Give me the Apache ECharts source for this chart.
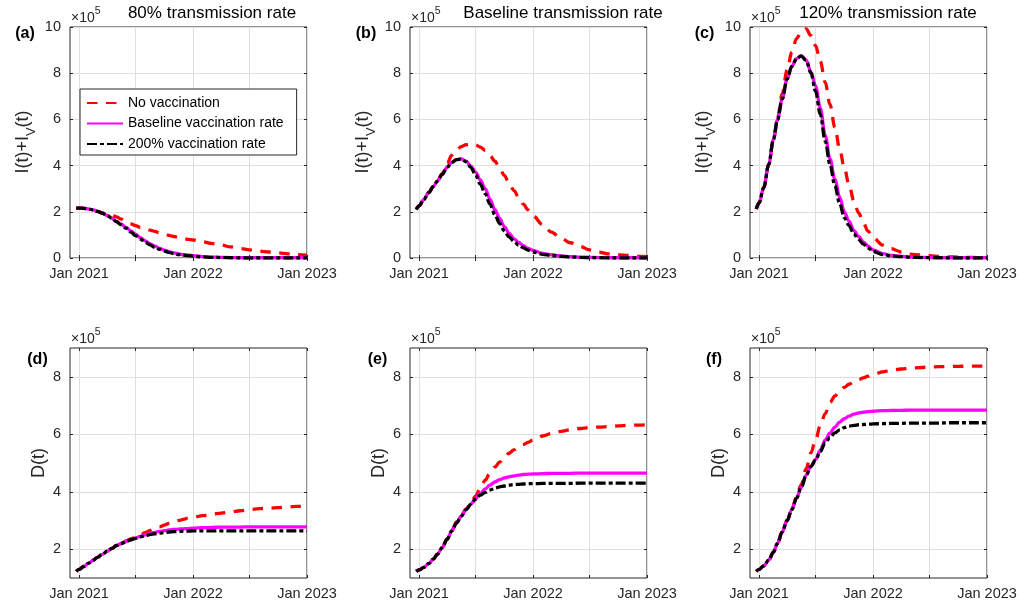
<!DOCTYPE html>
<html><head><meta charset="utf-8">
<script src="https://cdn.jsdelivr.net/npm/echarts@6/dist/echarts.min.js"></script>
<style>html,body{margin:0;padding:0;background:#fff}#c{width:1023px;height:609px}</style>
</head><body><div id="c"></div>
<script>
// ---- data (values in units of 1e5) ----
const dates = ['2020-12-23','2021-01-01','2021-01-16','2021-02-01','2021-02-16','2021-03-01','2021-03-16','2021-04-01','2021-04-16','2021-05-01','2021-05-16','2021-06-01','2021-06-16','2021-07-01','2021-07-16','2021-08-01','2021-08-16','2021-09-01','2021-09-16','2021-10-01','2021-10-16','2021-11-01','2021-11-16','2021-12-01','2021-12-16','2022-01-01','2022-02-01','2022-03-01','2022-04-01','2022-05-01','2022-06-01','2022-07-01','2022-08-01','2022-09-01','2022-10-01','2022-11-01','2022-12-01','2023-01-01'];

// (a) infections, 80% transmission
const noVacA  = [2.16,2.16,2.15,2.12,2.08,2.02,1.95,1.88,1.85,1.78,1.68,1.57,1.48,1.40,1.33,1.27,1.21,1.15,1.09,1.03,0.98,0.93,0.89,0.85,0.81,0.78,0.70,0.63,0.56,0.48,0.41,0.35,0.30,0.26,0.22,0.18,0.15,0.12];
const baseVacA= [2.16,2.16,2.15,2.12,2.08,2.02,1.94,1.84,1.72,1.58,1.46,1.32,1.17,1.03,0.88,0.74,0.62,0.51,0.42,0.34,0.28,0.22,0.18,0.14,0.12,0.10,0.06,0.04,0.03,0.02,0.01,0.01,0.01,0.01,0.01,0.01,0.01,0.01];
const dblVacA = [2.16,2.16,2.15,2.12,2.08,2.02,1.94,1.84,1.72,1.57,1.43,1.28,1.12,0.97,0.82,0.68,0.57,0.46,0.37,0.30,0.24,0.19,0.15,0.12,0.10,0.08,0.05,0.03,0.02,0.01,0,0,0,0,0,0,0,0];
// (b) infections, baseline transmission
const noVacB  = [2.10,2.26,2.53,2.83,3.10,3.34,3.65,4.10,4.45,4.68,4.82,4.91,4.94,4.90,4.80,4.66,4.44,4.19,3.88,3.58,3.25,2.92,2.63,2.33,2.08,1.83,1.44,1.12,0.85,0.66,0.50,0.35,0.25,0.18,0.14,0.11,0.08,0.06];
const baseVacB= [2.10,2.26,2.53,2.83,3.10,3.34,3.62,3.93,4.14,4.26,4.29,4.19,3.98,3.72,3.38,3.00,2.55,2.09,1.71,1.36,1.08,0.84,0.67,0.53,0.42,0.33,0.20,0.14,0.09,0.06,0.04,0.03,0.02,0.01,0.01,0.01,0.01,0.01];
const dblVacB = [2.10,2.26,2.53,2.83,3.10,3.34,3.62,3.93,4.14,4.26,4.28,4.16,3.92,3.60,3.20,2.78,2.33,1.87,1.50,1.18,0.92,0.72,0.56,0.44,0.34,0.26,0.16,0.11,0.07,0.04,0.03,0.01,0.01,0,0,0,0,0];
// (c) infections, 120% transmission
const noVacC  = [2.12,2.38,3.05,4.05,5.13,6.05,7.10,8.15,8.90,9.50,9.80,9.92,9.63,9.19,8.52,7.60,6.65,5.64,4.73,3.90,3.18,2.46,1.95,1.52,1.16,0.88,0.56,0.40,0.26,0.17,0.13,0.10,0.07,0.05,0.04,0.03,0.02,0.02];
const baseVacC= [2.12,2.38,3.05,4.05,5.13,5.98,6.88,7.75,8.30,8.63,8.75,8.57,8.06,7.45,6.50,5.30,4.30,3.40,2.65,2.00,1.60,1.18,0.93,0.70,0.52,0.35,0.19,0.11,0.07,0.04,0.03,0.02,0.01,0.01,0.01,0.01,0.01,0.01];
const dblVacC = [2.12,2.38,3.05,4.05,5.13,5.98,6.88,7.75,8.30,8.63,8.75,8.55,8.02,7.22,6.22,5.06,4.05,3.12,2.37,1.75,1.40,1.03,0.80,0.60,0.43,0.29,0.15,0.09,0.06,0.03,0.02,0.01,0.01,0,0,0,0,0];
// (d) deaths, 80% transmission
const noVacD  = [1.23,1.30,1.40,1.52,1.62,1.72,1.82,1.93,2.03,2.13,2.21,2.29,2.36,2.42,2.50,2.58,2.65,2.72,2.78,2.84,2.90,2.95,3.00,3.04,3.08,3.11,3.17,3.22,3.26,3.30,3.34,3.38,3.41,3.43,3.45,3.47,3.49,3.51];
const baseVacD= [1.23,1.30,1.40,1.52,1.62,1.72,1.82,1.93,2.03,2.13,2.20,2.27,2.33,2.39,2.45,2.50,2.55,2.59,2.62,2.65,2.67,2.69,2.70,2.71,2.72,2.73,2.75,2.76,2.77,2.77,2.77,2.78,2.78,2.78,2.78,2.78,2.78,2.78];
const dblVacD = [1.23,1.30,1.40,1.52,1.62,1.72,1.82,1.93,2.03,2.13,2.20,2.27,2.33,2.38,2.43,2.47,2.51,2.54,2.56,2.58,2.60,2.61,2.62,2.63,2.63,2.64,2.64,2.64,2.64,2.64,2.64,2.64,2.64,2.64,2.64,2.64,2.64,2.64];
// (e) deaths, baseline transmission
const noVacE  = [1.23,1.28,1.37,1.50,1.66,1.83,2.06,2.36,2.66,2.95,3.18,3.40,3.62,3.85,4.12,4.40,4.65,4.86,5.03,5.20,5.34,5.46,5.56,5.64,5.72,5.80,5.94,6.03,6.10,6.16,6.20,6.23,6.25,6.27,6.29,6.31,6.32,6.33];
const baseVacE= [1.23,1.28,1.37,1.50,1.66,1.83,2.06,2.35,2.64,2.91,3.15,3.38,3.57,3.76,3.94,4.10,4.23,4.34,4.42,4.48,4.52,4.55,4.58,4.60,4.61,4.62,4.63,4.64,4.64,4.64,4.65,4.65,4.65,4.65,4.65,4.65,4.65,4.65];
const dblVacE = [1.23,1.28,1.37,1.50,1.66,1.83,2.06,2.35,2.64,2.91,3.15,3.38,3.57,3.74,3.88,3.98,4.06,4.12,4.17,4.20,4.23,4.25,4.26,4.27,4.28,4.28,4.29,4.29,4.29,4.29,4.30,4.30,4.30,4.30,4.30,4.30,4.30,4.30];
// (f) deaths, 120% transmission
const noVacF  = [1.23,1.30,1.42,1.62,1.90,2.20,2.60,3.00,3.40,3.82,4.25,4.80,5.35,5.80,6.30,6.72,7.10,7.33,7.50,7.63,7.74,7.83,7.90,7.96,8.02,8.08,8.17,8.23,8.27,8.30,8.32,8.34,8.35,8.36,8.36,8.37,8.37,8.37];
const baseVacF= [1.23,1.30,1.42,1.62,1.90,2.20,2.60,3.00,3.38,3.78,4.15,4.58,4.88,5.12,5.45,5.80,6.04,6.25,6.42,6.54,6.63,6.70,6.74,6.77,6.79,6.80,6.82,6.83,6.83,6.84,6.84,6.84,6.84,6.84,6.84,6.84,6.84,6.84];
const dblVacF = [1.23,1.30,1.42,1.62,1.90,2.20,2.60,3.00,3.38,3.78,4.15,4.58,4.88,5.10,5.40,5.70,5.88,6.05,6.15,6.23,6.28,6.31,6.33,6.34,6.35,6.36,6.37,6.38,6.38,6.39,6.39,6.39,6.39,6.40,6.40,6.40,6.40,6.40];

const seriesNames = ['No vaccination','Baseline vaccination rate','200% vaccination rate'];
const panelTitles = ['80% transmission rate','Baseline transmission rate','120% transmission rate'];
const panelTags = ['(a)','(b)','(c)','(d)','(e)','(f)'];
const xTickDates = ['2021-01-01','2021-07-01','2022-01-01','2022-07-01','2023-01-01'];
const xLabelDates = ['2021-01-01','2022-01-01','2023-01-01'];
const xRange = ['2020-12-03','2023-01-01'];
const yTicksTop = [0,2,4,6,8,10];
const yTicksBottom = [2,4,6,8];
const yRangeTop = [0,10];
const yRangeBottom = [1,9];
const monthNames = ['Jan','Feb','Mar','Apr','May','Jun','Jul','Aug','Sep','Oct','Nov','Dec'];

// ---- layout / style ----
const FONT = 'Arial, "Liberation Sans", Helvetica, sans-serif';
const AX = '#262626';
const colLeft = [70, 410, 750], rowTop = [27, 348], rowH = [231, 230], W = 237;
const lineStyles = [
  {color: '#ff0000', type: [10.5, 8.5], width: 3.3},
  {color: '#ff00ff', type: 'solid', width: 3.3},
  {color: '#000000', type: [10, 3, 4, 3], width: 3.3}
];
const panelData = [
  [noVacA, baseVacA, dblVacA], [noVacB, baseVacB, dblVacB], [noVacC, baseVacC, dblVacC],
  [noVacD, baseVacD, dblVacD], [noVacE, baseVacE, dblVacE], [noVacF, baseVacF, dblVacF]
];
const ts = s => Date.parse(s);
const xTicks = xTickDates.map(ts), xLabels = xLabelDates.map(ts);

const grids = [], xAxes = [], yAxes = [], series = [];
for (let i = 0; i < 6; i++) {
  const row = Math.floor(i / 3), col = i % 3;
  grids.push({left: colLeft[col], top: rowTop[row], width: W, height: rowH[row],
    show: true, borderColor: AX, borderWidth: 1, backgroundColor: '#fff'});
}
for (let i = 0; i < 6; i++) {
  xAxes.push({type: 'value', gridIndex: i, min: ts(xRange[0]), max: ts(xRange[1]), position: 'bottom',
    axisLine: {show: false},
    axisTick: {show: true, inside: true, length: 3, customValues: xTicks, lineStyle: {color: AX}},
    splitLine: {show: true, lineStyle: {color: '#dfdfdf', width: 1}},
    axisLabel: {show: true, customValues: xLabels, margin: 8, fontSize: 14.5, fontFamily: FONT, color: AX,
      formatter: v => { const d = new Date(v); return monthNames[d.getUTCMonth()] + ' ' + d.getUTCFullYear(); }}
  });
}
for (let i = 0; i < 6; i++) {
  xAxes.push({type: 'value', gridIndex: i, min: ts(xRange[0]), max: ts(xRange[1]), position: 'top',
    axisLine: {show: false}, splitLine: {show: false}, axisLabel: {show: false},
    axisTick: {show: true, inside: true, length: 3, customValues: xTicks, lineStyle: {color: AX}}});
}
for (let i = 0; i < 6; i++) {
  const row = Math.floor(i / 3);
  const rng = row === 0 ? yRangeTop : yRangeBottom;
  const tk = row === 0 ? yTicksTop : yTicksBottom;
  yAxes.push({type: 'value', gridIndex: i, min: rng[0], max: rng[1], position: 'left',
    axisLine: {show: false},
    axisTick: {show: true, inside: true, length: 3, customValues: tk, lineStyle: {color: AX}},
    splitLine: {show: true, lineStyle: {color: '#dfdfdf', width: 1}},
    axisLabel: {show: true, customValues: tk, margin: 9, fontSize: 14.5, fontFamily: FONT, color: AX}});
}
for (let i = 0; i < 6; i++) {
  const row = Math.floor(i / 3);
  const rng = row === 0 ? yRangeTop : yRangeBottom;
  const tk = row === 0 ? yTicksTop : yTicksBottom;
  yAxes.push({type: 'value', gridIndex: i, min: rng[0], max: rng[1], position: 'right',
    axisLine: {show: false}, splitLine: {show: false}, axisLabel: {show: false},
    axisTick: {show: true, inside: true, length: 3, customValues: tk, lineStyle: {color: AX}}});
}
for (let i = 0; i < 6; i++) {
  for (let k = 0; k < 3; k++) {
    const vals = panelData[i][k];
    series.push({
      type: 'line', name: seriesNames[k], xAxisIndex: i, yAxisIndex: i,
      data: dates.map((d, j) => [ts(d), vals[j]]),
      showSymbol: false, symbol: 'none', smooth: 0.35, smoothMonotone: 'x',
      lineStyle: Object.assign({cap: 'butt'}, lineStyles[k]),
      itemStyle: {color: lineStyles[k].color},
      emphasis: {disabled: true}, animation: false, z: 2 + k
    });
  }
}

// ---- text decorations ----
const graphics = [];
const titleCenters = [212, 563, 888];
panelTitles.forEach((t, c) => graphics.push({type: 'text', x: titleCenters[c], y: 13,
  style: {text: t, font: '17px ' + FONT, fill: '#000', textAlign: 'center', textVerticalAlign: 'middle'}}));
const tagPos = [[25, 34], [366, 34], [704.5, 34], [37.5, 360], [377.5, 360], [714, 360]];
panelTags.forEach((t, i) => graphics.push({type: 'text', x: tagPos[i][0], y: tagPos[i][1],
  style: {text: t, font: 'bold 16px ' + FONT, fill: '#000', textAlign: 'center', textVerticalAlign: 'middle'}}));
for (let i = 0; i < 6; i++) {
  const row = Math.floor(i / 3), col = i % 3;
  graphics.push({type: 'text', x: colLeft[col] + 1, y: row === 0 ? 18.5 : 339.5,
    style: {text: '{m|×10}{s|5}', textAlign: 'left', textVerticalAlign: 'middle',
      rich: {m: {fontSize: 14, fontFamily: FONT, fill: AX},
             s: {fontSize: 10.5, fontFamily: FONT, fill: AX, padding: [0, 0, 14, 0]}}}});
  if (row === 0) {
    graphics.push({type: 'text', x: colLeft[col] - 47, y: 142, rotation: Math.PI / 2,
      style: {text: '{m|I(t)+I}{s|V}{m|(t)}', textAlign: 'center', textVerticalAlign: 'middle',
        rich: {m: {fontSize: 18, fontFamily: FONT, fill: AX},
               s: {fontSize: 13, fontFamily: FONT, fill: AX, padding: [16, 0, 0, 0]}}}});
  } else {
    graphics.push({type: 'text', x: colLeft[col] - 31, y: 463, rotation: Math.PI / 2,
      style: {text: 'D(t)', font: '18px ' + FONT, fill: AX, textAlign: 'center', textVerticalAlign: 'middle'}});
  }
}

const chart = echarts.init(document.getElementById('c'), null, {renderer: 'canvas'});
chart.setOption({
  backgroundColor: '#fff',
  animation: false,
  grid: grids, xAxis: xAxes, yAxis: yAxes, series: series,
  legend: {data: seriesNames, orient: 'vertical', left: 80, top: 89,
    itemWidth: 36, itemHeight: 14, itemGap: 6.5, padding: [7, 13, 4, 6],
    borderColor: AX, borderWidth: 1, backgroundColor: '#fff', borderRadius: 0,
    selectedMode: false, z: 10,
    itemStyle: {opacity: 0},
    textStyle: {fontSize: 14, fontFamily: FONT, color: '#000'}},
  graphic: {elements: graphics}
});
</script></body></html>
